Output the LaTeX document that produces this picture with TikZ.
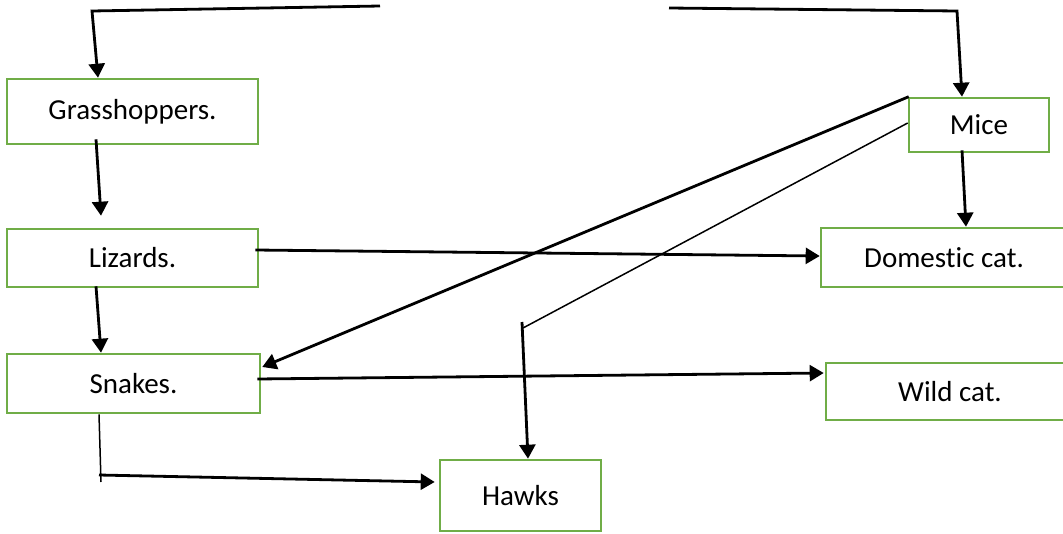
\documentclass[tikz,border=0pt]{standalone}
\usepackage{fontspec}
\setmainfont[RawFeature=-liga]{Carlito}
\usetikzlibrary{arrows.meta}
\definecolor{boxgreen}{HTML}{70AD47}
\tikzset{
  box/.style={draw=boxgreen, line width=2.6pt, fill=white, inner sep=0pt,
    font=\fontsize{29}{34}\selectfont, text=black},
  link/.style={draw=black, line width=2.8pt},
  thinlink/.style={draw=black, line width=1.5pt},
  tip/.style={-{Triangle[length=14pt,width=16pt]}}
}
\begin{document}
\begin{tikzpicture}[x=1pt,y=-1pt]
\useasboundingbox (0,0) rectangle (1063,533);
\begin{scope}
\clip (0,0) rectangle (1063,533);
% nodes
\node[box, minimum width=251pt, minimum height=65pt] (grass) at (132.5,111.5) {Grasshoppers.};
\node[box, minimum width=251pt, minimum height=58pt] (lizards) at (132.5,258) {Lizards.};
\node[box, minimum width=253pt, minimum height=59pt] (snakes) at (133.5,383.5) {Snakes.};
\node[box, minimum width=161pt, minimum height=71pt] (hawks) at (520.5,495.5) {Hawks};
\node[box, minimum width=140pt, minimum height=54pt] (mice) at (979,125) {Mice};
\node[box, minimum width=246pt, minimum height=59pt] (domcat) at (944,257.5) {Domestic cat.};
\node[box, minimum width=248pt, minimum height=57pt] (wildcat) at (950,391.5) {Wild cat.};
\end{scope}
% free ends
\coordinate (tl1) at (380,6);
\coordinate (tl2) at (92,11);
\coordinate (tr1) at (669,8);
\coordinate (tr2) at (957,11);
\coordinate (hk1) at (523,328);
\coordinate (hk0) at (522,322);
\coordinate (sh1) at (101,482);
\coordinate (sh0) at (99,475);
% connectors
\draw[link, tip] (tl1) -- (tl2) -- ([xshift=-34.5pt]grass.north);
\draw[link, tip] (tr1) -- (tr2) -- ([xshift=-17pt]mice.north);
\draw[link, tip] ([shift={(-36.5pt,6pt)}]grass.south) -- ([shift={(-31.5pt,12pt)}]lizards.north);
\draw[link, tip] ([shift={(-36.5pt,2pt)}]lizards.south) -- ([xshift=-32.5pt]snakes.north);
\draw[link, tip] ([shift={(-17pt,3pt)}]mice.south) -- ([xshift=22pt]domcat.north);
\draw[link, tip] ([shift={(-4pt,8pt)}]lizards.east) -- ([yshift=1.5pt]domcat.west);
\draw[link, tip] ([xshift=1pt]mice.north west) -- ([shift={(1pt,16.5pt)}]snakes.east);
\draw[thinlink] ([yshift=2pt]mice.west) -- (hk1);
\draw[link, tip] (hk0) -- ([xshift=7.5pt]hawks.north);
\draw[link, tip] ([shift={(-4pt,4.5pt)}]snakes.east) -- ([shift={(-1pt,18.5pt)}]wildcat.west);
\draw[thinlink] ([xshift=-34.5pt]snakes.south) -- (sh1);
\draw[link, tip] (sh0) -- ([shift={(-4pt,13.5pt)}]hawks.west);
\end{tikzpicture}
\end{document}
